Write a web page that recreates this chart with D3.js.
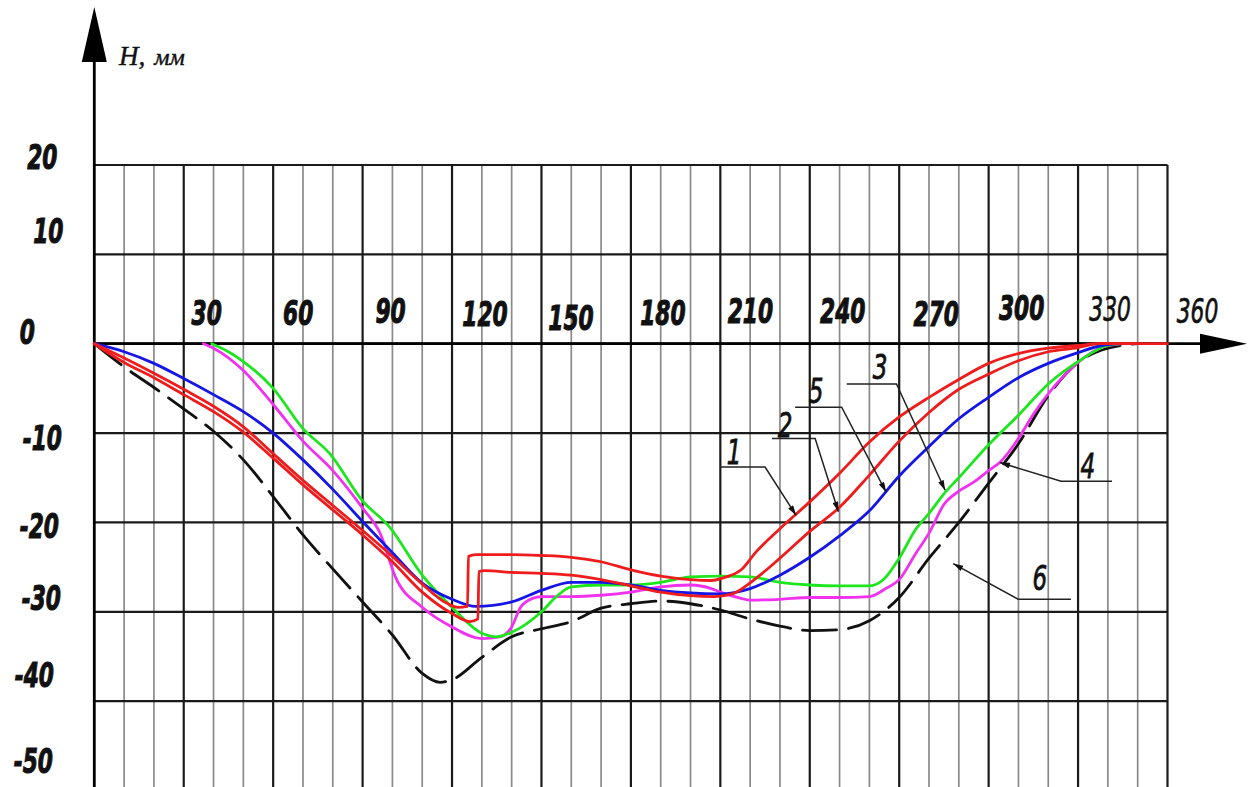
<!DOCTYPE html>
<html>
<head>
<meta charset="utf-8">
<script src="https://cdn.jsdelivr.net/npm/d3@7"></script>
<style>
  html, body { margin: 0; padding: 0; background: #fff; }
  svg { display: block; }
</style>
</head>
<body>
<svg id="chart" width="1250" height="787"></svg>
<script>
// ---- Data: depth H (mm) against rotation angle (degrees) ----
const curve1 = [[0,0],[10,-1.6],[20,-3.3],[30,-5.1],[40,-7.0],[50,-9.3],[60,-12.3],[70,-15.3],[80,-18.1],[90,-20.9],[100,-23.8],[110,-26.9],[118,-29.0],[122,-29.5],[125.2,-29.4],[125.5,-23.8],[128,-23.6],[140,-23.6],[150,-23.7],[160,-23.9],[170,-24.4],[180,-25.3],[190,-26.0],[200,-26.4],[207,-26.5],[212,-26.1],[217,-25.3],[222,-23.3],[230,-20.7],[240,-17.7],[250,-14.5],[260,-11.0],[270,-8.2],[280,-6.0],[290,-4.0],[300,-2.2],[310,-1.1],[320,-0.5],[330,-0.2],[337,0],[360,0]];
const curve2 = [[0,0],[10,-2.1],[20,-3.8],[30,-5.7],[40,-7.6],[50,-9.9],[60,-12.8],[70,-15.8],[80,-18.6],[90,-21.4],[100,-24.4],[110,-27.8],[120,-30.2],[126,-31.1],[128.7,-30.8],[129,-25.5],[131,-25.4],[140,-25.6],[150,-25.7],[160,-25.9],[170,-26.4],[180,-27.1],[190,-27.8],[200,-28.2],[208,-28.3],[214,-28.0],[221,-26.5],[230,-24.0],[240,-21.0],[250,-18.3],[260,-14.7],[270,-10.9],[280,-7.7],[290,-5.1],[300,-3.4],[310,-1.9],[320,-0.9],[330,-0.45],[337,0],[350,0]];
const curve3 = [[39.4,0],[45,-0.9],[50,-2.0],[60,-5.0],[70,-9.5],[79,-12.3],[90,-17.6],[99,-20.5],[110,-25.9],[120,-29.5],[130,-32.4],[135,-32.8],[140,-32.3],[150,-30.0],[155,-28.3],[160,-27.2],[170,-27.0],[180,-27.0],[190,-26.7],[200,-26.1],[210,-26.0],[220,-26.1],[230,-26.7],[240,-27.0],[250,-27.1],[260,-27.1],[265,-26.3],[270,-24.0],[275.5,-20.8],[280,-19.0],[285,-16.8],[290,-15.0],[300,-11.3],[310,-8.0],[320,-4.5],[330,-2.0],[340,-0.2],[345,0]];
const curve4 = [[36.6,0],[40,-0.5],[50,-3.0],[60,-6.8],[70,-10.9],[80,-14.2],[90,-18.4],[96,-21.3],[101,-26.1],[110,-29.5],[120,-31.7],[130,-33.0],[136,-32.8],[140,-31.7],[143,-29.5],[147,-28.5],[150,-28.3],[160,-28.3],[170,-28.15],[180,-27.8],[190,-27.2],[200,-27.0],[207,-27.4],[210,-27.8],[217,-28.5],[220,-28.7],[230,-28.6],[240,-28.4],[250,-28.4],[260,-28.3],[265.5,-27.4],[270,-26.4],[275.5,-23.5],[280,-21.2],[285,-18.0],[290,-16.5],[295,-15.5],[300,-14.2],[304,-13.2],[310,-10.6],[315,-7.9],[320,-5.6],[330,-2.1],[338,-0.4],[345,0]];
const curve5 = [[0,0],[10,-0.9],[20,-2.2],[30,-3.9],[40,-5.7],[50,-7.6],[60,-10.0],[70,-13.0],[80,-16.3],[90,-19.9],[100,-23.4],[110,-26.8],[120,-28.6],[128,-29.4],[140,-28.9],[150,-27.6],[160,-26.7],[170,-26.7],[180,-27.0],[190,-27.6],[200,-27.9],[210,-28.0],[220,-27.4],[230,-25.9],[240,-23.9],[250,-21.5],[260,-18.7],[270,-14.8],[280,-11.5],[290,-8.4],[300,-6.0],[310,-3.8],[320,-2.2],[330,-1.0],[338,-0.2],[345,0]];
const curve6 = [[0,0],[10,-2.6],[20,-4.9],[30,-7.3],[40,-9.8],[50,-13.0],[60,-17.1],[70,-21.4],[80,-25.2],[90,-28.9],[100,-32.6],[110,-36.9],[116,-37.9],[120,-37.6],[130,-35.1],[140,-32.8],[150,-31.9],[160,-31.1],[170,-29.6],[180,-29.1],[190,-28.8],[200,-29.1],[210,-29.8],[220,-30.8],[230,-31.6],[240,-32.1],[250,-32.0],[260,-31.0],[270,-28.4],[280,-24.0],[290,-20.0],[300,-15.6],[310,-11.2],[320,-5.8],[330,-2.1],[340,-0.5],[350,0]];

// Axis tick labels
const xTicks = [30, 60, 90, 120, 150, 180, 210, 240, 270, 300, 330, 360];
const yTicks = [20, 10, 0, -10, -20, -30, -40, -50];
const yGrid = [20, 10, 0, -10, -20, -30, -40];

// Leader callouts: label, arrow tip, elbow, free end, text anchor (degrees, mm)
const calloutNames = ["1", "2", "5", "3", "4", "6"];
const calloutTips   = [[235.4,-19.2],[249.6,-18.8],[265.6,-16.6],[285.4,-16.4],[303.8,-13.3],[288.1,-24.6]];
const calloutElbows = [[225.0,-13.8],[241.8,-10.6],[250.7,-7.1],[269.1,-4.5],[324.3,-15.4],[309.9,-28.6]];
const calloutEnds   = [[209.9,-13.8],[227.3,-10.6],[235.1,-7.1],[252.4,-4.5],[341.4,-15.4],[327.6,-28.6]];
const calloutText   = [[214.6,-13.5],[231.7,-10.4],[242.1,-6.6],[263.6,-3.9],[333.3,-15.0],[317.2,-27.6]];

// ---- Layout ----
const W = 1250, H = 787;
const svg = d3.select("#chart");
const x = d3.scaleLinear().domain([0, 360]).range([94.3, 1167.5]);
const y = d3.scaleLinear().domain([-50, 20]).range([790.5, 165]);

// per-label nudges for the hand-lettered tick numbers (px, from grid line)
const xTickShift = [[23,-31.5],[25,-31.5],[28,-33.5],[33,-30.5],[29.5,-26.5],[32,-31.5],[30,-33.5],[33,-33.5],[37,-30.5],[33,-36.5],[32,-35.5],[30,-33.5]];
const yTickShift = [[-52,-9],[-46,-24],[-67,-12],[-52,4],[-55,3],[-53,-14],[-60,-27],[-61,-30]];

const FONT = "DejaVu Sans";

function letter(g, str, cx, cy, size, weight, sx) {
  return g.append("text")
    .attr("transform", `translate(${cx},${cy}) scale(${sx},1)`)
    .attr("text-anchor", "middle")
    .attr("font-family", FONT)
    .attr("font-style", "italic")
    .attr("font-weight", weight)
    .attr("font-size", size)
    .attr("fill", "#111")
    .text(str);
}

// ---- Grid ----
const grid = svg.append("g");
d3.range(10, 361, 10).forEach(d => {
  const major = d % 30 === 0;
  grid.append("line")
    .attr("x1", x(d)).attr("x2", x(d))
    .attr("y1", y(20)).attr("y2", H)
    .attr("stroke", major ? "#1a1a1a" : "#8a8a8a")
    .attr("stroke-width", major ? 2.2 : 1.7);
});
yGrid.forEach(v => {
  grid.append("line")
    .attr("x1", x(0)).attr("x2", x(360))
    .attr("y1", y(v)).attr("y2", y(v))
    .attr("stroke", "#1a1a1a")
    .attr("stroke-width", 2.2);
});

// ---- Axes with arrows ----
const axes = svg.append("g");
axes.append("line")
  .attr("x1", x(0)).attr("x2", x(0))
  .attr("y1", H).attr("y2", 55)
  .attr("stroke", "#000").attr("stroke-width", 2.8);
axes.append("path")
  .attr("d", `M${x(0)},7 L${x(0) - 12.5},62 L${x(0) + 12.5},62 Z`)
  .attr("fill", "#000");
axes.append("line")
  .attr("x1", x(0)).attr("x2", 1202)
  .attr("y1", y(0)).attr("y2", y(0))
  .attr("stroke", "#000").attr("stroke-width", 2.8);
axes.append("path")
  .attr("d", `M1247,${y(0)} L1200,${y(0) - 10} L1200,${y(0) + 10} Z`)
  .attr("fill", "#000");

// axis title
const title = svg.append("text")
  .attr("x", 119).attr("y", 65)
  .attr("font-family", "Liberation Serif")
  .attr("font-style", "italic")
  .attr("font-size", 27)
  .attr("fill", "#111")
  .attr("stroke", "#111").attr("stroke-width", 0.4);
title.append("tspan").text("H,");
title.append("tspan").attr("dx", 9).attr("font-size", 24).text("мм");

// ---- Tick labels ----
const labels = svg.append("g");
xTicks.forEach((t, i) => {
  const [dx, dy] = xTickShift[i];
  const heavy = t < 330;
  letter(labels, String(t), x(t) + dx, y(0) + dy + 12.5, 34, heavy ? "bold" : "normal", 0.64)
    .attr("stroke", "#111").attr("stroke-width", heavy ? 1.1 : 0.7);
});
yTicks.forEach((t, i) => {
  const [dx, dy] = yTickShift[i];
  letter(labels, String(t), x(0) + dx, y(t) + dy + 12.5, 34, "bold", 0.64)
    .attr("stroke", "#111").attr("stroke-width", 1.1);
});

// ---- Curves ----
const line = d3.line()
  .x(d => x(d[0]))
  .y(d => y(d[1]))
  .curve(d3.curveMonotoneX);

const series = [
  { data: curve6, color: "#111111", dash: "34,12", width: 2.8 },
  { data: curve4, color: "#f032f0", dash: null, width: 2.8 },
  { data: curve3, color: "#1ee61e", dash: null, width: 2.8 },
  { data: curve5, color: "#1515e6", dash: null, width: 2.8 },
  { data: curve2, color: "#ee1c1c", dash: null, width: 2.8 },
  { data: curve1, color: "#ee1c1c", dash: null, width: 2.8 }
];
const curves = svg.append("g").attr("fill", "none");
series.forEach(s => {
  curves.append("path")
    .attr("d", line(s.data))
    .attr("stroke", s.color)
    .attr("stroke-width", s.width)
    .attr("stroke-dasharray", s.dash)
    .attr("stroke-linejoin", "round")
    .attr("stroke-linecap", "round");
});

// ---- Callouts ----
svg.append("defs").append("marker")
  .attr("id", "tip")
  .attr("viewBox", "0 0 10 6")
  .attr("refX", 10).attr("refY", 3)
  .attr("markerWidth", 11).attr("markerHeight", 6)
  .attr("markerUnits", "userSpaceOnUse")
  .attr("orient", "auto")
  .append("path").attr("d", "M0,0 L10,3 L0,6 Z").attr("fill", "#111");

const callouts = svg.append("g");
calloutNames.forEach((name, i) => {
  const pts = [calloutEnds[i], calloutElbows[i], calloutTips[i]];
  callouts.append("path")
    .attr("d", d3.line().x(d => x(d[0])).y(d => y(d[1]))(pts))
    .attr("fill", "none")
    .attr("stroke", "#222")
    .attr("stroke-width", 1.5)
    .attr("marker-end", "url(#tip)");
  const [tx, ty] = calloutText[i];
  letter(callouts, name, x(tx), y(ty), 33, "normal", 0.7)
    .attr("stroke", "#111").attr("stroke-width", 0.8);
});
</script>
</body>
</html>
